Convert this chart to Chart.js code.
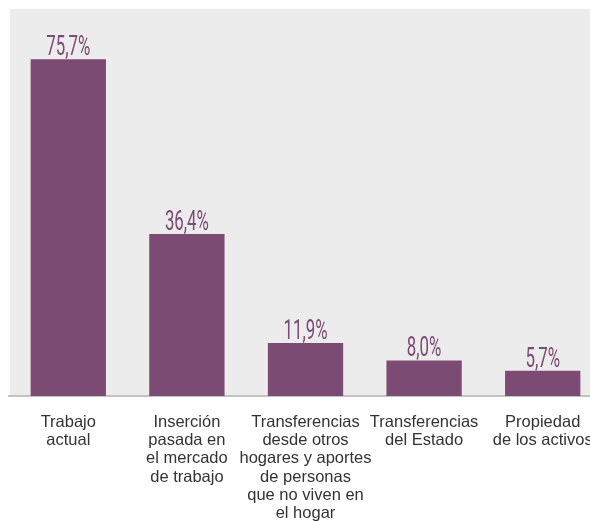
<!DOCTYPE html>
<html>
<head>
<meta charset="utf-8">
<script src="https://cdn.jsdelivr.net/npm/chart.js@4"></script>
<style>
  html, body { margin: 0; padding: 0; background: #ffffff; overflow: hidden; }
  #wrap { width: 602px; height: 521px; }
</style>
</head>
<body>
<div id="wrap"><canvas id="c"></canvas></div>
<script>
// categories (multi-line axis labels)
const categories = [
  ['Trabajo', 'actual'],
  ['Inserción', 'pasada en', 'el mercado', 'de trabajo'],
  ['Transferencias', 'desde otros', 'hogares y aportes', 'de personas', 'que no viven en', 'el hogar'],
  ['Transferencias', 'del Estado'],
  ['Propiedad', 'de los activos'],
];
const values = [75.7, 36.4, 11.9, 8.0, 5.7];
const valueLabels = values.map(v => v.toFixed(1).replace('.', ',') + '%');

const PURPLE = '#7c4b73';

// grey panel behind the bars
const panelBg = {
  id: 'panelBg',
  beforeDraw(chart) {
    const { ctx, chartArea: a } = chart;
    ctx.save();
    ctx.fillStyle = '#ececec';
    ctx.fillRect(a.left + 1, a.top, a.right - a.left, a.bottom - a.top);
    ctx.restore();
  },
};

// value labels above the bars, squeezed to a condensed look
const valueText = {
  id: 'valueText',
  afterDatasetsDraw(chart) {
    const { ctx } = chart;
    const meta = chart.getDatasetMeta(0);
    ctx.save();
    ctx.fillStyle = PURPLE;
    ctx.font = '27px Roboto, "Liberation Sans", sans-serif';
    ctx.textAlign = 'center';
    ctx.textBaseline = 'alphabetic';
    const sx = 44 / ctx.measureText('75,7%').width;
    meta.data.forEach((bar, k) => {
      ctx.save();
      ctx.translate(bar.x, bar.y - 4);
      ctx.scale(sx, 1);
      ctx.fillText(valueLabels[k], 0, 0);
      ctx.restore();
    });
    ctx.restore();
  },
};

new Chart(document.getElementById('c'), {
  type: 'bar',
  data: {
    labels: categories,
    datasets: [{
      data: values,
      backgroundColor: PURPLE,
      borderWidth: 0,
      barPercentage: 0.635,
      categoryPercentage: 1,
    }],
  },
  options: {
    responsive: true,
    maintainAspectRatio: false,
    animation: false,
    layout: { padding: { left: 9, right: 0, top: 9, bottom: 0 } },
    plugins: { legend: { display: false }, tooltip: { enabled: false } },
    scales: {
      x: {
        afterFit(scale) { scale.height = 125; },
        grid: { display: false },
        border: { display: true, color: '#c2c2c2', width: 2 },
        ticks: {
          color: '#333333',
          font: { family: '"Liberation Sans", Arial, sans-serif', size: 16.5, lineHeight: 1.11 },
          padding: 9,
          maxRotation: 0,
          minRotation: 0,
          autoSkip: false,
        },
      },
      y: {
        display: false,
        min: 0,
        max: 87,
      },
    },
  },
  plugins: [panelBg, valueText],
});
</script>
</body>
</html>
